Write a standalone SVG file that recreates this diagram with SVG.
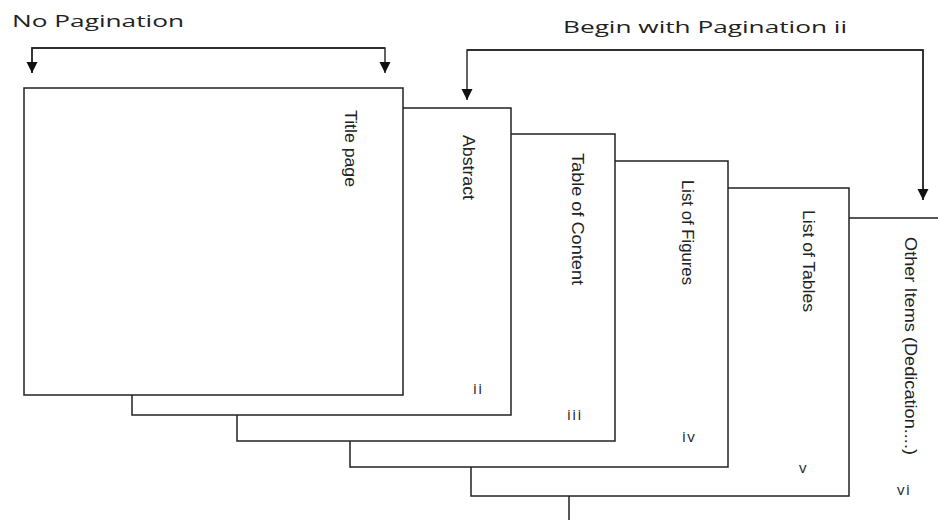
<svg xmlns="http://www.w3.org/2000/svg" width="938" height="520" viewBox="0 0 938 520">
<style>
.page{fill:#fff;stroke:#222;stroke-width:1.5}
.lbl{font-family:"Liberation Sans Narrow","Liberation Sans",Arial,sans-serif;font-size:17px;fill:#222}
.num{font-family:"Open Sans","Liberation Sans",sans-serif;font-size:15px;fill:#222;letter-spacing:1.5px}
.hdr{font-family:"Open Sans","Liberation Sans",sans-serif;font-size:16px;fill:#222}
.con{fill:none;stroke:#222;stroke-width:1.4}
</style>
<defs>
<marker id="ah" viewBox="0 0 10 10" refX="10" refY="5" markerWidth="11" markerHeight="12" markerUnits="userSpaceOnUse" orient="auto">
<path d="M0,0 L10,5 L0,10 Z" fill="#111"/>
</marker>
</defs>
<rect width="938" height="520" fill="#fff"/>
<g id="other-items">
<rect class="page" x="569" y="218" width="420" height="400"/>
<text class="lbl" transform="translate(905,237) rotate(90)" textLength="218" lengthAdjust="spacingAndGlyphs">Other Items (Dedication....)</text>
<text class="num" x="897" y="495">vi</text>
</g>
<g id="list-of-tables">
<rect class="page" x="471" y="188" width="378" height="308"/>
<text class="lbl" transform="translate(803,210) rotate(90)" textLength="102" lengthAdjust="spacingAndGlyphs">List of Tables</text>
<text class="num" x="799" y="473">v</text>
</g>
<g id="list-of-figures">
<rect class="page" x="350" y="161" width="378" height="306"/>
<text class="lbl" transform="translate(682,180) rotate(90)" textLength="105" lengthAdjust="spacingAndGlyphs">List of Figures</text>
<text class="num" x="682" y="442">iv</text>
</g>
<g id="table-of-content">
<rect class="page" x="237" y="134" width="378" height="307"/>
<text class="lbl" transform="translate(572,153) rotate(90)" textLength="132" lengthAdjust="spacingAndGlyphs">Table of Content</text>
<text class="num" x="567" y="420">iii</text>
</g>
<g id="abstract">
<rect class="page" x="132" y="108" width="379" height="307"/>
<text class="lbl" transform="translate(463,135) rotate(90)" textLength="65" lengthAdjust="spacingAndGlyphs">Abstract</text>
<text class="num" x="473" y="394">ii</text>
</g>
<g id="title-page">
<rect class="page" x="24" y="88" width="379" height="307"/>
<text class="lbl" transform="translate(345,110) rotate(90)" textLength="77" lengthAdjust="spacingAndGlyphs">Title page</text>
</g>
<g id="connectors">
<path class="con" d="M32,73 V48 H385 V73" marker-end="url(#ah)"/>
<path class="con" d="M385,48 H32 V73" marker-end="url(#ah)"/>
<path class="con" d="M923,200 V50 H467 V100" marker-end="url(#ah)"/>
<path class="con" d="M467,50 H923 V200" marker-end="url(#ah)"/>
</g>
<g id="headers">
<text class="hdr" x="12" y="27" textLength="172" lengthAdjust="spacingAndGlyphs">No Pagination</text>
<text class="hdr" x="563" y="33" textLength="284" lengthAdjust="spacingAndGlyphs">Begin with Pagination ii</text>
</g>
</svg>
